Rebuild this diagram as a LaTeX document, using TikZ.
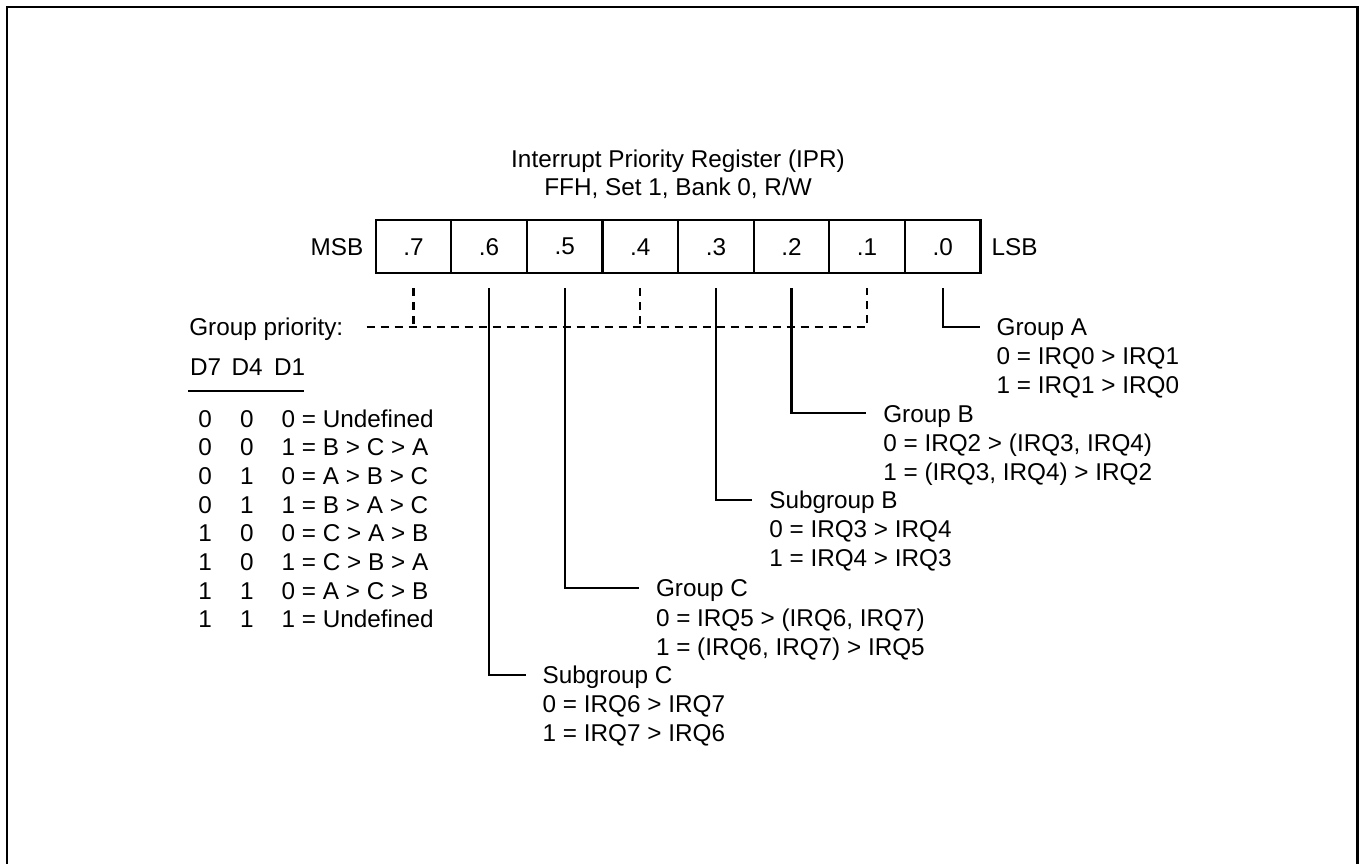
\documentclass[tikz,border=0pt]{standalone}
\usepackage{fontspec}
\setmainfont{Liberation Sans}
\begin{document}
\begin{tikzpicture}[x=1pt,y=-1pt,
  txt/.style={inner sep=0pt, outer sep=0pt, text height=17.4pt, text depth=0pt, font=\fontsize{24.3}{29}\selectfont},
  lt/.style={txt, anchor=west},
  cell/.style={draw, line width=2.1pt, minimum width=75.6pt, minimum height=53.3pt, inner sep=0pt, outer sep=0pt, font=\fontsize{24.3}{29}\selectfont},
  conn/.style={line width=2.1pt},
  dashline/.style={line width=2.1pt, dash pattern=on 8pt off 6pt},
  framestyle/.style={line width=2.7pt}]
\useasboundingbox (0,0) rectangle (1359,864);
\fill[white] (0,0) rectangle (1359,864);
\draw[framestyle] (7,864) -- (7,7) -- (1357.3,7) -- (1357.3,864);

% title
\node[txt] (t1) at (678,159) {Interrupt Priority Register (IPR)};
\node[txt] (t2) at (678,187) {FFH, Set 1, Bank 0, R/W};

% register cells
\foreach \b [count=\i from 0] in {7,6,5,4,3,2,1,0}
  \node[cell] (b\b) at ({413.5+75.6*\i},246.7) {\raisebox{-1.5pt}{.\b}};
\node[txt, anchor=east] (msb) at (363.3,246.7) {MSB};
\node[txt, anchor=west] (lsb) at (991.7,246.7) {LSB};

% group priority
\node[lt] (gp) at (189.3,326.7) {Group priority:};
\draw[dashline] ([xshift=23.4pt]gp.east) -| ([yshift=-14.7pt]b1.south);
\draw[dashline] ([yshift=-14.7pt]b7.south) -- (b7.south |- gp.east);
\draw[dashline] ([yshift=-14.7pt]b4.south) -- (b4.south |- gp.east);

% table
\node[lt] (h7) at (190,366.7) {D7};
\node[lt] (h4) at (231.7,366.7) {D4};
\node[lt] (h1) at (274,366.7) {D1};
\draw[conn] (188.3,390.7) coordinate (ul1) -- (304.3,390.7) coordinate (ul2);
\foreach \a/\c/\r [count=\k from 0] in {0/0/0 = Undefined, 0/0/1 = B > C > A, 0/1/0 = A > B > C, 0/1/1 = B > A > C, 1/0/0 = C > A > B, 1/0/1 = C > B > A, 1/1/0 = A > C > B, 1/1/1 = Undefined}{
  \node[lt] (ra\k) at (198.3,{418.3+28.7*\k}) {\a};
  \node[lt] (rb\k) at (240,{418.3+28.7*\k}) {\c};
  \node[lt] (rc\k) at (281.7,{418.3+28.7*\k}) {\r};
}

% Group A
\node[lt] (gA) at (996.7,326.7) {Group A};
\node[lt] (gA0) at (996.7,355.7) {0 = IRQ0 > IRQ1};
\node[lt] (gA1) at (996.7,384.7) {1 = IRQ1 > IRQ0};
\draw[conn] ([yshift=-14.7pt]b0.south) |- ([xshift=-17pt]gA.west);

% Group B
\node[lt] (gB) at (883.3,413.3) {Group B};
\node[lt] (gB0) at (883.3,442.5) {0 = IRQ2 > (IRQ3, IRQ4)};
\node[lt] (gB1) at (883.3,471.4) {1 = (IRQ3, IRQ4) > IRQ2};
\draw[conn] ([yshift=-14.7pt]b2.south) |- ([xshift=-17pt]gB.west);

% Subgroup B
\node[lt] (sB) at (769.3,500) {Subgroup B};
\node[lt] (sB0) at (769.3,529.2) {0 = IRQ3 > IRQ4};
\node[lt] (sB1) at (769.3,558.2) {1 = IRQ4 > IRQ3};
\draw[conn] ([yshift=-14.7pt]b3.south) |- ([xshift=-17pt]sB.west);

% Group C
\node[lt] (gC) at (656,587.7) {Group C};
\node[lt] (gC0) at (656,617.5) {0 = IRQ5 > (IRQ6, IRQ7)};
\node[lt] (gC1) at (656,646.6) {1 = (IRQ6, IRQ7) > IRQ5};
\draw[conn] ([yshift=-14.7pt]b5.south) |- ([xshift=-17pt]gC.west);

% Subgroup C
\node[lt] (sC) at (542.7,675) {Subgroup C};
\node[lt] (sC0) at (542.7,704) {0 = IRQ6 > IRQ7};
\node[lt] (sC1) at (542.7,732.5) {1 = IRQ7 > IRQ6};
\draw[conn] ([yshift=-14.7pt]b6.south) |- ([xshift=-17pt]sC.west);
\end{tikzpicture}
\end{document}
